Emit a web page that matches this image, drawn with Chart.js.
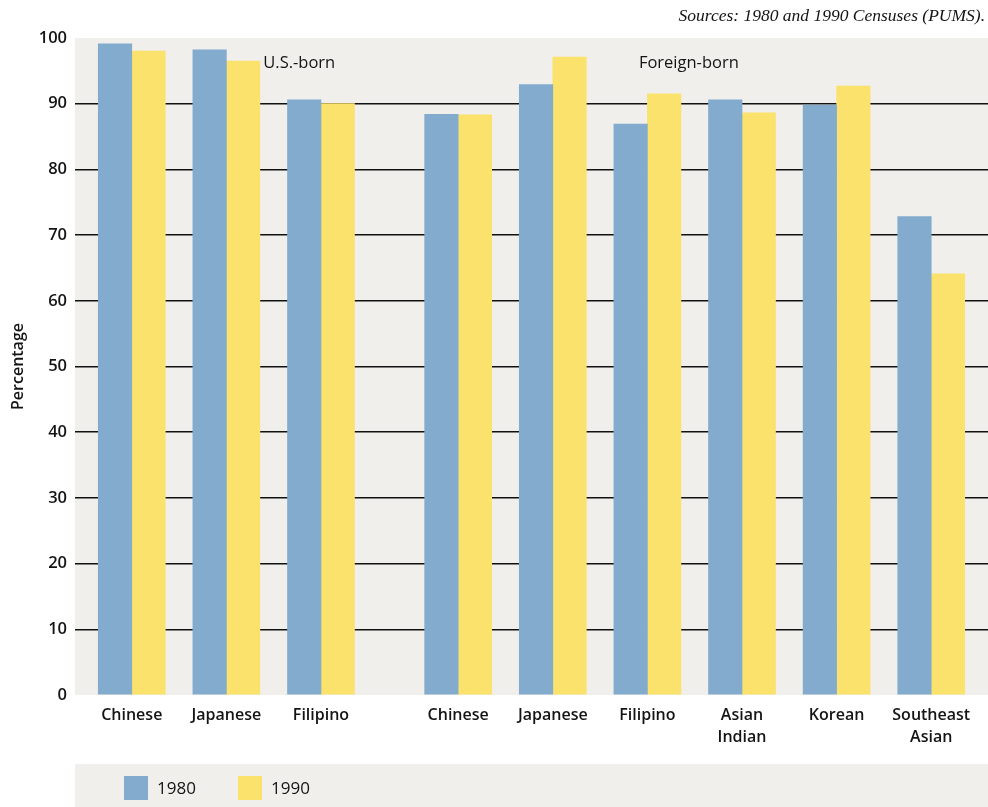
<!DOCTYPE html>
<html lang="en">
<head>
  <meta charset="utf-8">
  <title>U.S.-born and Foreign-born, 1980 and 1990</title>
  <style>
    html, body { margin: 0; padding: 0; background: #ffffff; }
    #wrap { width: 988px; height: 807px; position: relative; }
  </style>
  <script src="https://cdn.jsdelivr.net/npm/chart.js"></script>
</head>
<body>
  <div id="wrap"><canvas id="chart" width="988" height="807"></canvas></div>
  <script>
    // groups of categories
    const usBorn      = ['Chinese', 'Japanese', 'Filipino'];
    const foreignBorn = ['Chinese', 'Japanese', 'Filipino', ['Asian', 'Indian'], 'Korean', ['Southeast', 'Asian']];
    const groupTitles = ['U.S.-born', 'Foreign-born'];

    // percentages, U.S.-born first then foreign-born
    const values1980 = [99.1, 98.2, 90.6, 88.4, 92.9, 86.9, 90.6, 89.8, 72.8];
    const values1990 = [98.0, 96.5, 90.0, 88.3, 97.1, 91.5, 88.6, 92.7, 64.1];

    const yTicks = [0, 10, 20, 30, 40, 50, 60, 70, 80, 90, 100];
    const seriesNames = ['1980', '1990'];
    const sourceNote = 'Sources: 1980 and 1990 Censuses (PUMS).';

    // x layout: one unit per category, extra gap between the groups
    const GROUP_GAP = 0.45;
    const labels = usBorn.concat(foreignBorn);
    const xPos = labels.map((_, i) => i < usBorn.length ? i : i + GROUP_GAP);

    const BLUE = '#82abce';
    const YELLOW = '#fbe26c';
    const PLOT_BG = '#f0efeb';
    const INK = '#141414';
    const FONT = "'Open Sans', 'DejaVu Sans', sans-serif";

    const plotBg = {
      id: 'plotBg',
      beforeDraw(chart) {
        const { ctx, chartArea: a } = chart;
        ctx.save();
        ctx.fillStyle = PLOT_BG;
        ctx.fillRect(a.left, a.top, a.right - a.left, a.bottom - a.top);
        ctx.restore();
      }
    };

    const extras = {
      id: 'extras',
      afterDraw(chart) {
        const { ctx, chartArea: a, scales } = chart;
        const x = scales.x, y = scales.y;
        ctx.save();
        // group titles
        ctx.fillStyle = INK;
        ctx.font = '500 16.5px ' + FONT;
        ctx.textBaseline = 'middle';
        ctx.textAlign = 'left';
        ctx.fillText(groupTitles[0], x.getPixelForValue(1.39), y.getPixelForValue(96.1));
        ctx.fillText(groupTitles[1], x.getPixelForValue(5.36), y.getPixelForValue(96.1));

        // source note
        ctx.font = "italic 17.5px 'Liberation Serif', 'DejaVu Serif', serif";
        ctx.textAlign = 'right';
        ctx.fillText(sourceNote, 985, 16);

        // legend strip
        ctx.fillStyle = PLOT_BG;
        ctx.fillRect(a.left, 764, a.right - a.left, 43);
        ctx.font = '500 17px ' + FONT;
        ctx.textAlign = 'left';
        let lx = 124;
        chart.data.datasets.forEach(ds => {
          ctx.fillStyle = ds.backgroundColor;
          ctx.fillRect(lx, 776, 24, 24);
          ctx.fillStyle = INK;
          ctx.fillText(ds.label, lx + 33, 789);
          lx += 114;
        });
        ctx.restore();
      }
    };

    new Chart(document.getElementById('chart'), {
      type: 'bar',
      data: {
        datasets: [
          { label: seriesNames[0], data: values1980.map((v, i) => ({ x: xPos[i], y: v })), backgroundColor: BLUE },
          { label: seriesNames[1], data: values1990.map((v, i) => ({ x: xPos[i], y: v })), backgroundColor: YELLOW }
        ]
      },
      options: {
        responsive: false,
        animation: false,
        layout: { padding: { top: 38, left: 0, right: 0, bottom: 0 } },
        datasets: { bar: { barThickness: 33.5, borderWidth: 0 } },
        plugins: { legend: { display: false }, tooltip: { enabled: false } },
        scales: {
          x: {
            type: 'linear',
            min: -0.6,
            max: xPos[xPos.length - 1] + 0.6,
            offset: false,
            grid: { display: false, offset: false },
            border: { display: false },
            afterBuildTicks: s => { s.ticks = xPos.map(v => ({ value: v })); },
            afterFit: s => { s.height = 112; },
            ticks: {
              autoSkip: false,
              maxRotation: 0,
              padding: 1,
              color: INK,
              font: { family: FONT, size: 16, weight: '600', lineHeight: 1.4 },
              callback: (v, i) => labels[i]
            }
          },
          y: {
            min: 0,
            max: 100,
            afterBuildTicks: s => { s.ticks = yTicks.map(v => ({ value: v })); },
            afterFit: s => { s.width = 75; },
            grid: {
              drawTicks: false,
              lineWidth: 1.5,
              color: c => (c.tick && (c.tick.value === 0 || c.tick.value === 100)) ? 'rgba(0,0,0,0)' : '#111111'
            },
            border: { display: false },
            ticks: {
              padding: 8,
              color: INK,
              font: { family: FONT, size: 16.5, weight: '600' }
            },
            title: {
              display: true,
              text: 'Percentage',
              color: INK,
              padding: { top: 9, bottom: 4 },
              font: { family: FONT, size: 16, weight: '600' }
            }
          }
        }
      },
      plugins: [plotBg, extras]
    });
  </script>
</body>
</html>
